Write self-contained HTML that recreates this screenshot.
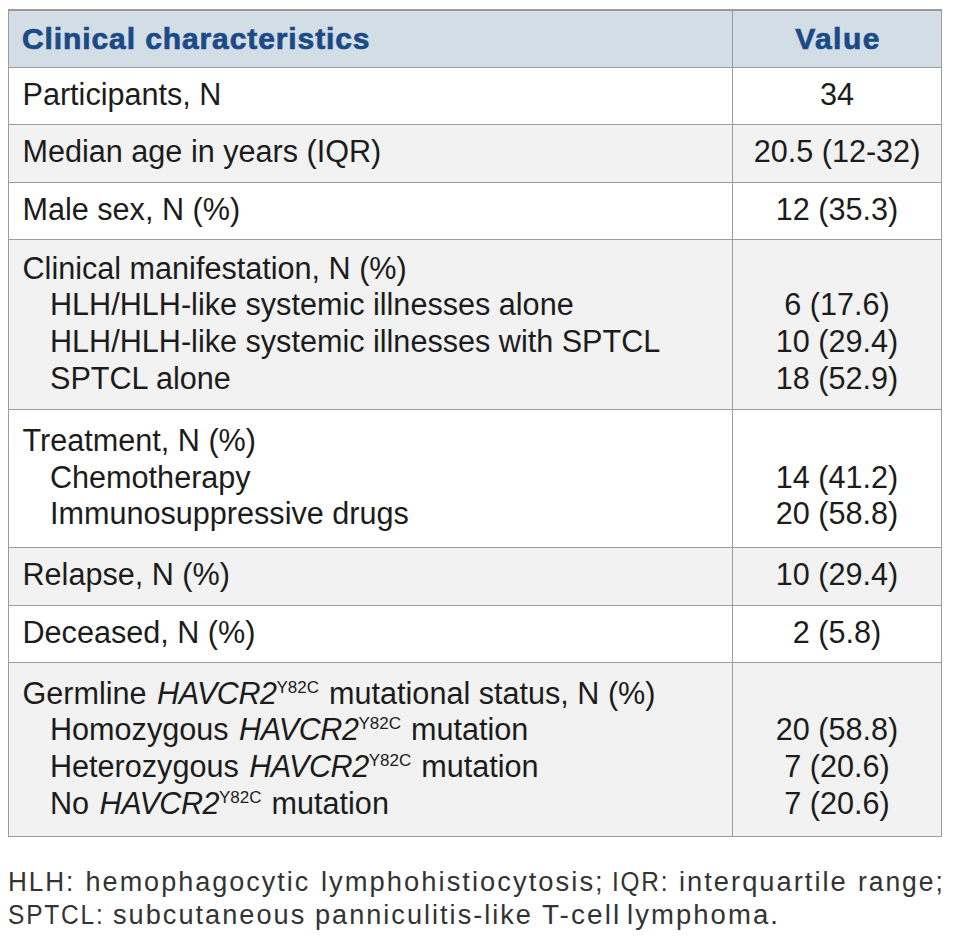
<!DOCTYPE html>
<html><head><meta charset="utf-8"><style>
html,body{margin:0;padding:0;background:#fff;}
body{width:953px;height:946px;overflow:hidden;position:relative;}
.bg{position:absolute;}
.ln{position:absolute;background:#9c9c9c;}
.t{position:absolute;white-space:nowrap;font-family:"Liberation Sans",sans-serif;font-size:30.6px;line-height:36px;color:#1c1c1c;}
.v{left:733px;width:208px;text-align:center;}
.t sup{font-size:17px;vertical-align:0;position:relative;top:-11px;line-height:0;margin-right:1.5px;}
.t i{margin-left:2px;letter-spacing:-0.5px;}
.h{position:absolute;white-space:nowrap;font-family:"Liberation Sans",sans-serif;font-weight:bold;font-size:30px;line-height:36px;color:#1b4b86;letter-spacing:0.9px;-webkit-text-stroke:0.7px #1b4b86;}
.f{position:absolute;white-space:nowrap;font-family:"Liberation Sans",sans-serif;font-size:27px;line-height:36px;color:#333;letter-spacing:2px;transform-origin:0 0;}
</style></head><body>

<div class="bg" style="left:9px;top:11px;width:932px;height:56px;background:#d3dde6"></div>
<div class="bg" style="left:9px;top:125px;width:932px;height:57px;background:#f2f2f2"></div>
<div class="bg" style="left:9px;top:240px;width:932px;height:169px;background:#f2f2f2"></div>
<div class="bg" style="left:9px;top:548px;width:932px;height:57px;background:#f2f2f2"></div>
<div class="bg" style="left:9px;top:663px;width:932px;height:173px;background:#f2f2f2"></div>
<div class="ln" style="left:8px;top:9px;width:934px;height:2px;background:#9a9a9a"></div>
<div class="ln" style="left:8px;top:67px;width:934px;height:1px"></div>
<div class="ln" style="left:8px;top:124px;width:934px;height:1px"></div>
<div class="ln" style="left:8px;top:182px;width:934px;height:1px"></div>
<div class="ln" style="left:8px;top:239px;width:934px;height:1px"></div>
<div class="ln" style="left:8px;top:409px;width:934px;height:1px"></div>
<div class="ln" style="left:8px;top:547px;width:934px;height:1px"></div>
<div class="ln" style="left:8px;top:605px;width:934px;height:1px"></div>
<div class="ln" style="left:8px;top:662px;width:934px;height:1px"></div>
<div class="ln" style="left:8px;top:836px;width:934px;height:1px"></div>
<div class="ln" style="left:8px;top:9px;width:1px;height:828px"></div>
<div class="ln" style="left:732px;top:9px;width:1px;height:828px"></div>
<div class="ln" style="left:941px;top:9px;width:1px;height:828px"></div>
<div class="h" style="left:22px;top:21.0px">Clinical characteristics</div>
<div class="h" style="left:734px;width:208px;text-align:center;letter-spacing:1.45px;top:21.0px">Value</div>
<div class="t" style="left:22.5px;top:76.4px">Participants, N</div>
<div class="t" style="left:22.5px;top:133.4px">Median age in years (IQR)</div>
<div class="t" style="left:22.5px;top:190.9px">Male sex, N (%)</div>
<div class="t" style="left:22.5px;top:250.4px">Clinical manifestation, N (%)</div>
<div class="t" style="left:50.0px;top:286.4px">HLH/HLH-like systemic illnesses alone</div>
<div class="t" style="left:50.0px;top:323.4px">HLH/HLH-like systemic illnesses with SPTCL</div>
<div class="t" style="left:50.0px;top:360.4px">SPTCL alone</div>
<div class="t" style="left:22.5px;top:422.4px">Treatment, N (%)</div>
<div class="t" style="left:50.0px;top:459.4px">Chemotherapy</div>
<div class="t" style="left:50.0px;top:495.4px">Immunosuppressive drugs</div>
<div class="t" style="left:22.5px;top:556.4px">Relapse, N (%)</div>
<div class="t" style="left:22.5px;top:614.4px">Deceased, N (%)</div>
<div class="t" style="left:22.5px;top:675.4px">Germline <i>HAVCR2</i><sup>Y82C</sup> mutational status, N (%)</div>
<div class="t" style="left:50.0px;top:711.4px">Homozygous <i>HAVCR2</i><sup>Y82C</sup> mutation</div>
<div class="t" style="left:50.0px;top:748.4px">Heterozygous <i>HAVCR2</i><sup>Y82C</sup> mutation</div>
<div class="t" style="left:50.0px;top:785.4px">No <i>HAVCR2</i><sup>Y82C</sup> mutation</div>
<div class="t v" style="top:76.4px">34</div>
<div class="t v" style="top:133.4px">20.5 (12-32)</div>
<div class="t v" style="top:190.9px">12 (35.3)</div>
<div class="t v" style="top:286.4px">6 (17.6)</div>
<div class="t v" style="top:323.4px">10 (29.4)</div>
<div class="t v" style="top:360.4px">18 (52.9)</div>
<div class="t v" style="top:459.4px">14 (41.2)</div>
<div class="t v" style="top:495.4px">20 (58.8)</div>
<div class="t v" style="top:556.4px">10 (29.4)</div>
<div class="t v" style="top:614.4px">2 (5.8)</div>
<div class="t v" style="top:711.4px">20 (58.8)</div>
<div class="t v" style="top:748.4px">7 (20.6)</div>
<div class="t v" style="top:785.4px">7 (20.6)</div>
<div class="f" style="left:8.46px;top:864.2px;transform:scaleX(0.968);">HLH:</div>
<div class="f" style="left:85.60px;top:864.2px;transform:scaleX(1.0);">hemophagocytic</div>
<div class="f" style="left:320.77px;top:864.2px;transform:scaleX(1.013);">lymphohistiocytosis;</div>
<div class="f" style="left:611.79px;top:864.2px;transform:scaleX(0.902);">IQR:</div>
<div class="f" style="left:679.38px;top:864.2px;transform:scaleX(1.01);">interquartile</div>
<div class="f" style="left:858.14px;top:864.2px;transform:scaleX(0.98);">range;</div>
<div class="f" style="left:8.29px;top:897.0px;transform:scaleX(0.906);">SPTCL:</div>
<div class="f" style="left:113.19px;top:897.0px;transform:scaleX(1.006);">subcutaneous</div>
<div class="f" style="left:315.19px;top:897.0px;transform:scaleX(1.004);">panniculitis-like</div>
<div class="f" style="left:541.66px;top:897.0px;transform:scaleX(1.036);">T-cell</div>
<div class="f" style="left:626.66px;top:897.0px;transform:scaleX(1.019);">lymphoma.</div>
</body></html>
